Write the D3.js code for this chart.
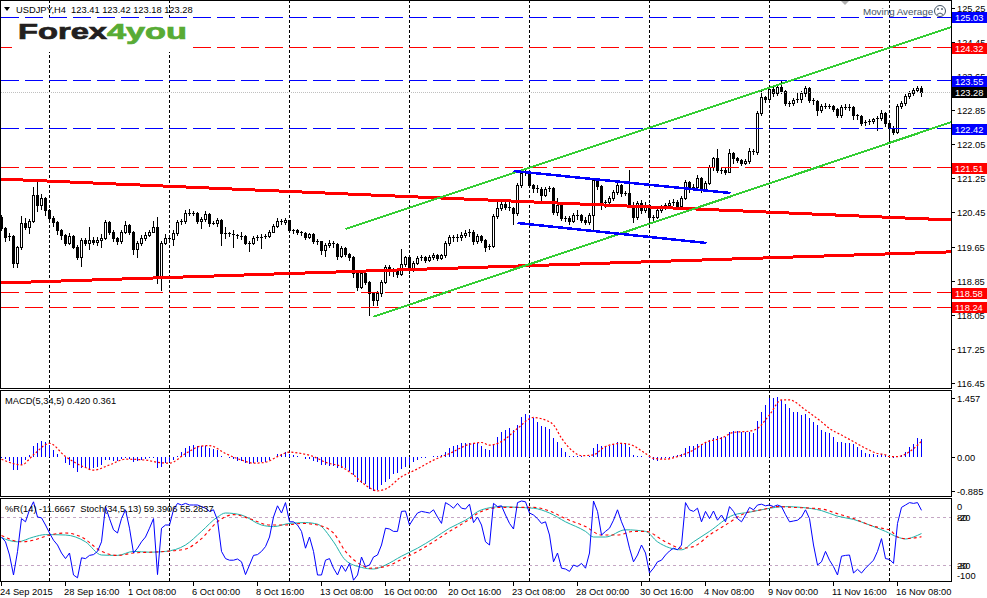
<!DOCTYPE html>
<html>
<head>
<meta charset="utf-8">
<script src="https://d3js.org/d3.v7.min.js"></script>
<style>
  body { margin: 0; background: #fff; }
  svg { display: block; font-family: "Liberation Sans", Arial, sans-serif; }
</style>
</head>
<body>
<svg id="chart" width="987" height="598"></svg>
<script>
// ---- USDJPY H4 candles (open of each bar = previous close) ----
const firstOpen = 120.36;
const close = [
  120.10,119.89,119.91,119.28,119.65,120.22,120.13,120.26,120.87,120.64,
  120.80,120.52,120.33,120.24,120.05,119.93,119.75,119.91,119.65,119.42,
  119.82,119.75,119.82,119.77,119.82,119.86,120.24,120.01,119.86,119.79,
  120.01,120.17,120.01,119.61,119.75,119.86,119.93,120.01,120.13,118.95,
  119.75,119.86,119.84,119.98,120.24,120.26,120.45,120.45,120.45,120.26,
  120.31,120.43,120.22,120.22,120.29,119.98,119.98,119.96,119.93,119.91,
  119.91,119.75,119.75,119.86,119.89,119.89,119.91,120.01,120.15,120.26,
  120.24,120.29,120.05,120.05,120.01,119.98,119.89,119.96,119.79,119.79,
  119.58,119.70,119.75,119.72,119.44,119.63,119.49,119.42,119.04,118.72,
  119.04,118.83,118.58,118.41,118.58,118.83,119.19,119.09,119.11,119.02,
  119.26,119.42,119.14,119.28,119.40,119.42,119.35,119.42,119.47,119.40,
  119.47,119.75,119.89,119.86,119.89,119.93,119.98,120.01,119.79,119.91,
  119.82,119.65,119.68,120.38,120.57,120.66,120.59,120.57,120.45,121.11,
  121.39,121.41,121.11,121.03,121.01,120.87,121.01,121.03,120.47,120.64,
  120.33,120.33,120.26,120.40,120.40,120.29,120.24,120.40,121.22,121.08,
  120.68,120.71,120.80,120.94,121.11,120.92,120.92,120.64,120.36,120.68,
  120.52,120.64,120.36,120.36,120.52,120.59,120.64,120.68,120.71,120.61,
  120.80,121.18,121.03,121.06,121.27,120.99,121.15,121.53,121.74,121.46,
  121.46,121.41,121.85,121.74,121.69,121.62,121.67,121.90,121.88,122.79,
  123.17,123.12,123.35,123.26,123.40,123.31,123.03,123.03,123.10,123.12,
  123.26,123.38,123.10,123.07,122.86,122.96,122.96,122.96,122.88,122.74,
  122.93,122.93,122.93,122.74,122.72,122.56,122.58,122.60,122.65,122.67,
  122.79,122.56,122.44,122.35,122.96,123.03,123.19,123.26,123.33,123.38,
  123.28
];
const high = [
  120.40,120.12,119.98,119.93,119.68,120.38,120.33,120.30,121.05,121.20,
  120.90,120.82,120.55,120.38,120.26,120.08,119.95,119.98,119.93,119.70,
  119.86,119.86,120.12,119.88,119.88,119.95,120.28,120.26,120.05,119.89,
  120.06,120.26,120.20,120.03,119.80,119.93,120.00,120.05,120.26,120.36,
  119.80,119.96,119.92,120.05,120.28,120.30,120.52,120.54,120.50,120.47,
  120.35,120.50,120.45,120.26,120.33,120.31,120.12,120.00,120.05,119.96,
  120.00,119.93,119.79,119.90,119.93,119.96,119.96,120.05,120.20,120.33,
  120.31,120.33,120.26,120.08,120.08,120.03,120.00,119.98,119.98,119.84,
  119.80,119.74,119.82,119.80,119.75,119.68,119.66,119.52,119.45,119.05,
  119.10,119.06,118.86,118.60,118.62,118.88,119.22,119.22,119.16,119.14,
  119.60,119.45,119.45,119.33,119.44,119.47,119.45,119.47,119.52,119.50,
  119.50,119.79,119.93,119.93,119.95,120.00,120.05,120.08,120.05,119.96,
  119.93,119.84,119.73,120.42,120.77,120.73,120.75,120.70,120.60,121.15,
  121.45,121.46,121.45,121.13,121.10,121.06,121.05,121.08,121.06,120.80,
  120.68,120.38,120.38,120.45,120.52,120.42,120.35,120.45,121.25,121.25,
  121.10,120.75,120.85,120.99,121.15,121.13,120.96,121.46,120.70,120.72,
  120.75,120.70,120.66,120.40,120.56,120.64,120.68,120.75,120.78,120.75,
  120.84,121.22,121.20,121.12,121.35,121.30,121.20,121.57,121.77,121.95,
  121.52,121.50,121.95,121.88,121.77,121.72,121.72,121.96,121.95,122.83,
  123.30,123.20,123.40,123.45,123.46,123.55,123.33,123.08,123.14,123.28,
  123.30,123.42,123.40,123.14,123.10,123.00,123.02,123.00,122.98,122.90,
  122.97,123.00,123.00,122.96,122.76,122.75,122.62,122.65,122.68,122.71,
  122.85,122.81,122.58,122.48,123.00,123.08,123.23,123.30,123.38,123.42,
  123.42
];
const low = [
  120.05,119.80,119.82,119.18,119.18,119.60,120.08,119.98,120.24,120.50,
  120.55,120.40,120.25,120.15,119.95,119.85,119.70,119.72,119.62,119.38,
  119.20,119.70,119.60,119.72,119.70,119.66,119.84,119.96,119.80,119.72,
  119.74,119.98,119.96,119.50,119.42,119.70,119.82,119.90,120.00,118.80,
  118.65,119.72,119.78,119.70,119.94,120.20,120.22,120.40,120.40,120.22,
  120.10,120.26,120.15,120.18,120.15,119.70,119.86,119.90,119.65,119.86,
  119.84,119.72,119.55,119.72,119.82,119.62,119.86,119.88,120.00,120.12,
  120.19,120.20,120.00,119.98,119.96,119.94,119.84,119.86,119.74,119.72,
  119.50,119.45,119.66,119.66,119.38,119.42,119.45,119.35,118.95,118.65,
  118.70,118.78,118.07,118.30,118.30,118.50,118.80,119.00,118.98,118.96,
  119.00,119.20,119.05,119.10,119.25,119.35,119.30,119.33,119.38,119.36,
  119.38,119.42,119.70,119.80,119.80,119.82,119.88,119.90,119.72,119.75,
  119.76,119.56,119.60,119.65,120.33,120.52,120.55,120.52,120.20,120.40,
  121.05,121.33,121.05,120.95,120.95,120.70,120.85,120.96,120.42,120.40,
  120.28,120.26,120.20,120.24,120.30,120.24,120.20,120.18,120.02,121.00,
  120.55,120.60,120.62,120.75,120.90,120.85,120.87,120.58,120.25,120.30,
  120.46,120.48,120.30,120.28,120.33,120.48,120.55,120.60,120.64,120.58,
  120.58,120.78,120.95,120.98,121.02,120.94,120.96,121.12,121.45,121.40,
  121.38,121.36,121.40,121.62,121.64,121.58,121.60,121.62,121.82,121.84,
  122.75,123.05,123.10,123.20,123.22,123.25,122.97,122.95,122.98,123.06,
  123.05,123.20,123.05,123.00,122.75,122.82,122.90,122.90,122.84,122.70,
  122.70,122.88,122.85,122.65,122.66,122.52,122.52,122.54,122.56,122.40,
  122.63,122.48,122.13,122.30,122.33,122.90,122.98,123.15,123.22,123.30,
  123.18
];

// ---- MACD(5,34,5) histogram per bar, signal read at sampled bars ----
const macdHist = [
  -0.03,-0.05,-0.09,-0.30,-0.30,-0.18,-0.07,0.05,0.24,0.31,
  0.36,0.35,0.27,0.16,0.06,0.00,-0.14,-0.18,-0.24,-0.35,
  -0.26,-0.26,-0.27,-0.24,-0.22,-0.18,-0.07,-0.07,-0.09,-0.09,
  -0.05,-0.02,-0.05,-0.12,-0.09,-0.07,-0.05,-0.03,-0.03,-0.24,
  -0.22,-0.14,-0.12,-0.07,0.03,0.12,0.20,0.26,0.27,0.24,
  0.24,0.25,0.21,0.18,0.16,0.03,0.00,-0.03,-0.05,-0.09,
  -0.09,-0.14,-0.17,-0.14,-0.12,-0.12,-0.11,-0.07,0.00,0.06,
  0.08,0.12,0.08,0.05,0.03,0.00,-0.05,-0.05,-0.09,-0.12,
  -0.18,-0.18,-0.20,-0.20,-0.24,-0.24,-0.26,-0.32,-0.41,-0.58,
  -0.60,-0.62,-0.73,-0.77,-0.75,-0.64,-0.56,-0.50,-0.39,-0.37,
  -0.28,-0.22,-0.18,-0.12,-0.07,-0.03,-0.02,0.00,0.03,0.03,
  0.05,0.12,0.21,0.24,0.27,0.31,0.33,0.33,0.31,0.31,
  0.24,0.18,0.16,0.29,0.46,0.58,0.62,0.65,0.62,0.73,
  0.90,0.99,0.96,0.88,0.80,0.71,0.68,0.64,0.43,0.35,
  0.21,0.12,0.03,0.02,0.02,0.02,0.01,0.02,0.21,0.30,
  0.26,0.24,0.26,0.29,0.34,0.33,0.29,0.23,0.05,0.02,
  0.02,0.01,-0.03,-0.07,-0.08,-0.05,-0.03,-0.02,0.03,0.05,
  0.08,0.21,0.24,0.26,0.30,0.29,0.31,0.39,0.44,0.48,
  0.46,0.46,0.58,0.59,0.59,0.58,0.56,0.58,0.54,0.82,
  1.03,1.18,1.35,1.34,1.37,1.30,1.20,1.11,1.03,1.03,
  0.96,0.97,0.88,0.80,0.72,0.62,0.58,0.54,0.46,0.35,
  0.35,0.33,0.33,0.30,0.22,0.16,0.10,0.06,0.06,0.05,
  0.06,0.04,0.01,-0.02,0.01,0.05,0.12,0.22,0.30,0.43,
  0.42
];
const macdSignal = [
  [0,-0.05],[5,-0.18],[8,0.05],[12,0.31],[16,0.01],[21,-0.24],[23,-0.30],[27,-0.18],
  [31,-0.05],[36,-0.07],[39,-0.12],[42,-0.14],[46,0.08],[50,0.25],[52,0.26],[56,0.08],
  [60,-0.07],[63,-0.14],[66,-0.12],[69,0.01],[72,0.11],[75,0.08],[78,0.01],[81,-0.12],
  [85,-0.22],[88,-0.41],[91,-0.64],[94,-0.77],[96,-0.73],[100,-0.45],[104,-0.27],[108,-0.07],
  [112,0.08],[117,0.29],[120,0.33],[122,0.27],[125,0.35],[129,0.65],[133,0.90],[135,0.87],
  [138,0.73],[140,0.43],[143,0.12],[145,0.03],[148,0.05],[151,0.24],[155,0.31],[157,0.29],
  [161,0.08],[163,-0.03],[166,-0.05],[169,0.01],[173,0.16],[176,0.33],[180,0.43],[183,0.56],
  [187,0.59],[189,0.65],[192,0.96],[195,1.30],[197,1.30],[201,1.07],[205,0.80],[207,0.65],
  [210,0.50],[213,0.35],[216,0.20],[219,0.08],[221,0.05],[222,0.01],[224,0.01],[227,0.12],
  [230,0.36]
];

// ---- Williams %R(14) per bar ----
const wpr = [
  -45,-51,-67.5,-92.5,-63.3,-22,-26,-11,-1,-20,
  -21,-30,-40,-49,-55,-65,-72,-65,-92.5,-96,
  -71,-72,-68,-67,-63,-51,-7,-22,-36,-40,
  -22,-11,-34,-65,-59,-51,-45,-34,-22,-92,
  -34,-30,-30,-11,-3,-5,-3,-5,-5,-5,
  -7,-9,-13,-11,-24,-63,-72,-74,-74,-72.5,
  -76,-92,-80,-68,-67,-63,-57,-45,-20,-6,
  -15,-2,-26,-26,-30,-38,-59,-45,-63,-92.5,
  -92.5,-74,-72,-84,-92.5,-80,-88,-78,-99,-92.5,
  -70,-82,-80,-70,-67.5,-55,-34,-35,-38,-38,
  -13,-12.5,-30,-22,-15,-13,-14,-15,-11,-20,
  -28,-2,-5,-9,-3,-9,-10,-4,-27,-20,
  -30,-51,-55,-3,-7,-6,-17.5,-28,-35,-2,
  0,-1,-15,-17.5,-22,-28,-26,-42.5,-76,-65,
  -84,-85,-88,-80,-82,-78,-84,-65,0,-13,
  -42.5,-38,-34,-24,-11,-26,-38,-59,-76,-67.5,
  -55,-65,-90,-84,-76,-74,-67.5,-62.5,-59,-61,
  -55,-2,-11,-13,-9,-26,-13,-22,-12.5,-24,
  -17.5,-26,-7,-13,-22,-26,-17.5,-8,-11,-5,
  -4,-6,-5,-7,-5,-7,-17,-26,-25,-24,
  -20,-11,-22,-55,-80,-76,-63,-74,-82,-92.5,
  -69,-68,-67.5,-90,-85.4,-90,-84,-79,-74,-63,
  -47,-72,-73,-78,-28,-8,-5,-2,-3,-2,
  -11.67
];

// ---- Stochastic(34,5,13) main and signal, read at sampled bars ----
const stochMain = [
  [0,54],[4,49],[8,55],[11,58],[16,57.5],[21,49],[25,32.5],[29,32],[33,37],[37,36],
  [41,37],[46,45],[50,62],[54,80],[56,85],[60,82.5],[65,70],[68,68],[72,72],[76,73],
  [79,71],[83,49],[86,26],[90,17],[93,15],[96,20],[100,31],[104,41],[108,53],[112,66],
  [116,76],[120,89],[125,93],[129,92],[133,91],[137,85],[141,74],[146,62],[148,55],[151,55],
  [156,64],[161,62],[164,49],[170,39],[173,49],[177,62],[183,82.5],[187,86],[191,90],[196,93],
  [200,92],[205,88],[209,81],[213,77],[217,70],[221,62],[224,55],[226,52.5],[228,55],[230,59.39]
];
const stochSignal = [
  [0,57],[5,49],[8,51],[12,57.5],[16,60],[20,55],[25,37],[29,32],[33,35],[37,36],
  [41,37],[46,40],[50,53],[54,74],[58,83],[62,78],[67,70],[71,70],[75,72],[79,70],
  [83,60],[86,37],[90,20],[92,16],[96,18],[100,27],[104,37],[108,49],[112,62],[116,74],
  [120,87],[125,92],[129,92],[133,92],[137,87.5],[141,78],[146,68],[150,57.5],[154,57.5],[158,62],
  [161,62],[166,49],[170,41],[173,43],[177,57.5],[181,70],[186,85],[190,89],[194,93],[198,92],
  [205,90],[209,84],[213,78],[217,70],[221,65],[222,64],[224,55],[226,53],[230,55.28]
];
const stochLevels = [80, 20];

// ---- chart objects ----
const levelPrices = [125.03, 124.32, 123.55, 122.42, 121.51, 118.58, 118.24];
const levelKind   = ["blue", "red", "blue", "blue", "red", "red", "red"];
const bidPrice = 123.28;
const trendLines = [
  { kind: "red",   from: [-0.25, 121.245], to: [237.5, 120.285] },
  { kind: "red",   from: [-0.25, 118.81],  to: [237.5, 119.54] },
  { kind: "green", from: [86, 120.074],    to: [237.5, 124.805] },
  { kind: "green", from: [93, 118.02],     to: [237.5, 122.58] },
  { kind: "blue",  from: [128, 121.433],   to: [182.25, 120.917] },
  { kind: "blue",  from: [129, 120.215],   to: [176.25, 119.747] }
];

// ---- axes ----
const priceTicks = [125.25,124.45,123.65,122.85,122.05,121.25,120.45,119.65,118.85,118.05,117.25,116.45];
const macdTicks = ["1.457", "0.00", "-0.885"];
const stochTicks = [["0",100],["80",80],["-20",80],["20",20],["-80",20],["-100",0]];
const timeLabels = ["24 Sep 2015","28 Sep 16:00","1 Oct 08:00","6 Oct 00:00","8 Oct 16:00",
  "13 Oct 08:00","16 Oct 00:00","20 Oct 16:00","23 Oct 08:00","28 Oct 00:00","30 Oct 16:00",
  "4 Nov 08:00","9 Nov 00:00","11 Nov 16:00","16 Nov 08:00"];
const timeLabelBars = [0,16,32,48,64,80,96,112,128,144,160,176,192,208,224];
const gridBars = [12,42,72,102,132,162,192,222];

const headerText = "USDJPY,H4  123.41 123.42 123.18 123.28";
const macdText = "MACD(5,34,5) 0.420 0.361";
const stochText = "%R(14) -11.6667  Stoch(34,5,13) 59.3906 55.2837";

// ================= drawing =================
const axisX = 951, fs = 9.3;
const svg = d3.select("#chart");
const kindColor = d3.scaleOrdinal().domain(["blue","red","green"]).range(["#0000ff","#ff0000","#32cd32"]);
const kindWidth = d3.scaleOrdinal().domain(["blue","red","green"]).range([2.5, 3, 2]);

const x = d3.scaleLinear().domain([0, 230]).range([1.5, 921.5]);
const yP = d3.scaleLinear().domain([116.45, 125.25]).range([383.76, 8]);
const yM = d3.scaleLinear().domain([-0.885, 1.457]).range([495.9, 393]);
const yS = d3.scaleLinear().domain([0, 100]).range([581, 501]);
const px = v => Math.round(v - 0.5) + 0.5;

const panels = [
  { id: "pMain", y0: 0, h: 388 },
  { id: "pMacd", y0: 390, h: 106 },
  { id: "pSto", y0: 498, h: 83 }
];
const defs = svg.append("defs");
panels.forEach(p => {
  defs.append("clipPath").attr("id", p.id).append("rect")
    .attr("x", 1).attr("y", p.y0 + 1).attr("width", axisX - 1).attr("height", p.h);
  p.g = svg.append("g").attr("clip-path", `url(#${p.id})`);
  // dashed vertical grid
  p.g.append("g").selectAll("line").data(gridBars).join("line")
    .attr("x1", d => px(x(d))).attr("x2", d => px(x(d)))
    .attr("y1", p.y0).attr("y2", p.y0 + p.h + 1)
    .attr("stroke", "#000").attr("stroke-dasharray", "3,2")
    .attr("shape-rendering", "crispEdges");
});
const [gMain, gMacd, gSto] = panels.map(p => p.g);

// ---- candles ----
const candles = close.map((c, i) => {
  const o = i ? close[i - 1] : firstOpen;
  return { i, o, c, h: Math.max(high[i], o, c), l: Math.min(low[i], o, c) };
});
const gC = gMain.append("g").attr("shape-rendering", "crispEdges");
gC.selectAll("line").data(candles).join("line")
  .attr("x1", d => x(d.i)).attr("x2", d => x(d.i))
  .attr("y1", d => Math.round(yP(d.h))).attr("y2", d => Math.round(yP(d.l)) + 1)
  .attr("stroke", "#000");
candles.forEach(d => {
  const top = Math.round(yP(Math.max(d.o, d.c)));
  const bot = Math.round(yP(Math.min(d.o, d.c)));
  const cx = x(d.i);
  if (bot - top < 2) {
    gC.append("rect").attr("x", cx - 1.5).attr("y", top).attr("width", 3).attr("height", 1).attr("fill", "#000");
  } else if (d.c < d.o) {
    gC.append("rect").attr("x", cx - 1.5).attr("y", top).attr("width", 3).attr("height", bot - top + 1).attr("fill", "#000");
  } else {
    gC.append("rect").attr("x", cx - 1).attr("y", top + 0.5).attr("width", 2).attr("height", bot - top)
      .attr("fill", "#fff").attr("stroke", "#000");
  }
});

// ---- horizontal levels and bid line ----
gMain.append("line")
  .attr("x1", 1).attr("x2", axisX).attr("y1", px(yP(bidPrice))).attr("y2", px(yP(bidPrice)))
  .attr("stroke", "#c0c0c0").attr("stroke-dasharray", "1,1").attr("shape-rendering", "crispEdges");
gMain.append("g").selectAll("line").data(levelPrices).join("line")
  .attr("x1", 1).attr("x2", axisX)
  .attr("y1", d => px(yP(d))).attr("y2", d => px(yP(d)))
  .attr("stroke", (d, i) => kindColor(levelKind[i]))
  .attr("stroke-dasharray", "18,6").attr("shape-rendering", "crispEdges");

// ---- trend lines ----
gMain.append("g").selectAll("line").data(trendLines).join("line")
  .attr("x1", d => x(d.from[0])).attr("y1", d => yP(d.from[1]))
  .attr("x2", d => x(d.to[0])).attr("y2", d => yP(d.to[1]))
  .attr("stroke", d => kindColor(d.kind)).attr("stroke-width", d => kindWidth(d.kind))
  .attr("shape-rendering", "crispEdges");

// ---- MACD ----
gMacd.append("g").attr("shape-rendering", "crispEdges")
  .selectAll("line").data(macdHist).join("line")
  .attr("x1", (d, i) => x(i)).attr("x2", (d, i) => x(i))
  .attr("y1", Math.round(yM(0))).attr("y2", d => Math.round(yM(d)))
  .attr("stroke", "#0000ff");
gMacd.append("path").datum(macdSignal)
  .attr("d", d3.line().x(d => x(d[0])).y(d => yM(d[1])).curve(d3.curveMonotoneX))
  .attr("fill", "none").attr("stroke", "#ff0000").attr("stroke-width", 1.2).attr("stroke-dasharray", "2,2");

// ---- Stochastic / %R ----
gSto.append("g").selectAll("line").data(stochLevels).join("line")
  .attr("x1", 1).attr("x2", axisX).attr("y1", d => px(yS(d))).attr("y2", d => px(yS(d)))
  .attr("stroke", "#c4a6c4").attr("stroke-dasharray", "3,3").attr("shape-rendering", "crispEdges");
gSto.append("path").datum(stochMain)
  .attr("d", d3.line().x(d => x(d[0])).y(d => yS(d[1])).curve(d3.curveMonotoneX))
  .attr("fill", "none").attr("stroke", "#20b2aa").attr("stroke-width", 1);
gSto.append("path").datum(stochSignal)
  .attr("d", d3.line().x(d => x(d[0])).y(d => yS(d[1])).curve(d3.curveMonotoneX))
  .attr("fill", "none").attr("stroke", "#ff0000").attr("stroke-width", 1.1).attr("stroke-dasharray", "3,3");
gSto.append("path").datum(wpr)
  .attr("d", d3.line().x((d, i) => x(i)).y(d => yS(d + 100)))
  .attr("fill", "none").attr("stroke", "#0000ff").attr("stroke-width", 1);

// ---- panel borders ----
panels.forEach(p => {
  svg.append("rect").attr("x", 0.5).attr("y", p.y0 + 0.5).attr("width", axisX).attr("height", p.h)
    .attr("fill", "none").attr("stroke", "#000").attr("shape-rendering", "crispEdges");
});

// ---- right axes ----
const axG = svg.append("g").attr("font-size", fs).attr("fill", "#000");
function rightLabel(y, t) {
  axG.append("line").attr("x1", axisX).attr("x2", axisX + 4).attr("y1", px(y)).attr("y2", px(y))
    .attr("stroke", "#000").attr("shape-rendering", "crispEdges");
  axG.append("text").attr("x", 957).attr("y", y + 3.5).text(t);
}
priceTicks.forEach(p => rightLabel(yP(p), d3.format(".2f")(p)));
macdTicks.forEach(t => rightLabel(Math.max(398, Math.min(491, yM(+t))), t));
stochTicks.forEach(([t, v]) => axG.append("text").attr("x", 957)
  .attr("y", Math.max(506, Math.min(575, yS(v))) + 3.5).text(t));

// price boxes
const boxes = levelPrices.map((p, i) => ({ p, kind: levelKind[i] })).concat([{ p: bidPrice, kind: "bid" }]);
const boxG = svg.append("g").selectAll("g").data(boxes).join("g")
  .attr("transform", d => `translate(952,${Math.round(yP(d.p)) - 5})`);
boxG.append("rect").attr("width", 35).attr("height", 11)
  .attr("fill", d => d.kind === "bid" ? "#000" : kindColor(d.kind));
boxG.append("text").attr("x", 3).attr("y", 9).attr("fill", "#fff").attr("font-size", fs)
  .text(d => d3.format(".2f")(d.p));

// ---- time axis ----
const tG = svg.append("g").attr("font-size", fs);
timeLabelBars.forEach((b, k) => {
  tG.append("line").attr("x1", x(b)).attr("x2", x(b)).attr("y1", 582).attr("y2", 586)
    .attr("stroke", "#000").attr("shape-rendering", "crispEdges");
  tG.append("text").attr("x", x(b) - 1.5).attr("y", 595).text(timeLabels[k]);
});

// ---- header texts ----
svg.append("path").attr("d", "M4,7 L10,7 L7,11 Z").attr("fill", "#000");
svg.append("text").attr("x", 16).attr("y", 13).attr("font-size", fs).style("white-space", "pre").text(headerText);
svg.append("text").attr("x", 5).attr("y", 404).attr("font-size", fs).text(macdText);
svg.append("text").attr("x", 5).attr("y", 512).attr("font-size", fs).style("white-space", "pre").text(stochText);

// logo on its own white plate (hides the lines behind it)
svg.append("rect").attr("x", 12).attr("y", 20).attr("width", 176).attr("height", 32).attr("fill", "#fff");
svg.append("text").attr("x", 18).attr("y", 39).attr("font-size", 22).attr("font-weight", "bold")
  .attr("fill", "#231f20").attr("stroke", "#231f20").attr("stroke-width", 0.7)
  .attr("textLength", 89).attr("lengthAdjust", "spacingAndGlyphs").text("Forex");
svg.append("text").attr("x", 107).attr("y", 39).attr("font-size", 22).attr("font-weight", "bold")
  .attr("fill", "#58ab35").attr("stroke", "#58ab35").attr("stroke-width", 0.7)
  .attr("textLength", 80).attr("lengthAdjust", "spacingAndGlyphs").text("4you");

// indicator name + icon
svg.append("path").attr("d", "M841,1 L849,1 L845,5 Z").attr("fill", "#b0b0b0");
svg.append("text").attr("x", 863).attr("y", 15).attr("font-size", 9.8).attr("fill", "#445566").text("Moving Average");
const face = svg.append("g").attr("fill", "none").attr("stroke", "#445566");
face.append("circle").attr("cx", 940).attr("cy", 11).attr("r", 5.5);
face.append("path").attr("d", "M937,14.5 Q940,11.5 943,14.5");
face.append("circle").attr("cx", 938).attr("cy", 9).attr("r", 0.5).attr("fill", "#445566");
face.append("circle").attr("cx", 942).attr("cy", 9).attr("r", 0.5).attr("fill", "#445566");
</script>
</body>
</html>
